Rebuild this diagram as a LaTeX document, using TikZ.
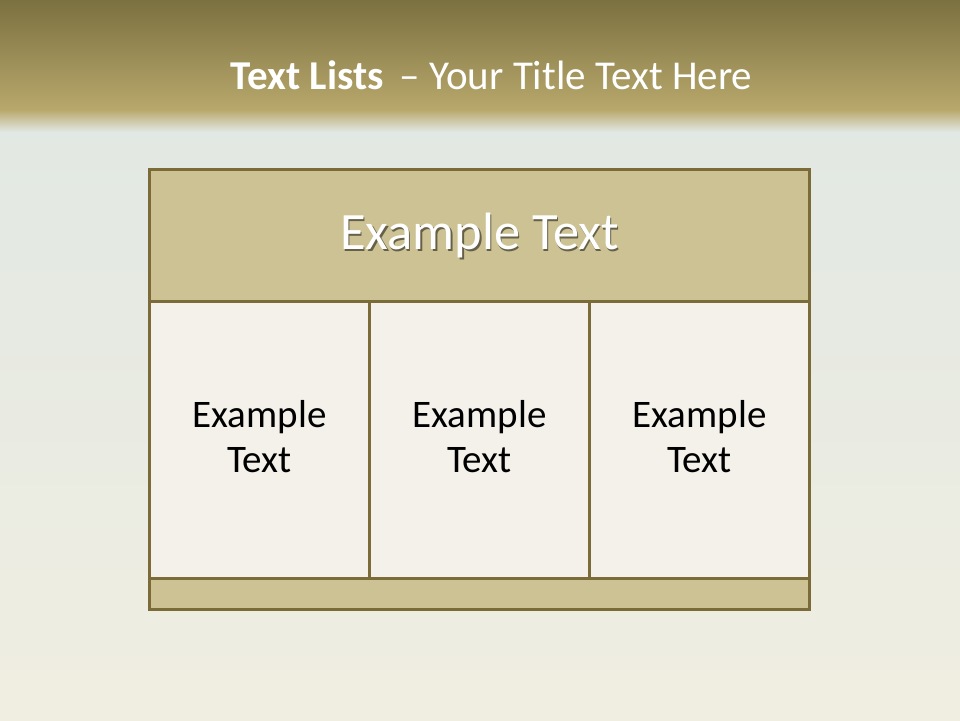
\documentclass[tikz,border=0pt]{standalone}
\usepackage{fontspec}
\setmainfont{Carlito}
\definecolor{bandtop}{HTML}{7B7040}
\definecolor{bandbot}{HTML}{B8A86C}
\definecolor{bgtop}{HTML}{E2E8E3}
\definecolor{bgbot}{HTML}{F0EEE1}
\definecolor{frame}{HTML}{7A6B38}
\definecolor{headfill}{HTML}{CDC293}
\definecolor{cellfill}{HTML}{F3F1E9}
\tikzset{
  box/.style={draw=frame, line width=3pt, inner sep=0pt, anchor=north west},
  headbox/.style={box, fill=headfill, minimum width=660pt, minimum height=132pt},
  cellbox/.style={box, fill=cellfill, minimum width=220pt, minimum height=277pt},
  celltext/.style={align=center, text=black, inner sep=0pt, font=\fontsize{39}{45}\selectfont},
  footbox/.style={box, fill=headfill, minimum width=660pt, minimum height=31pt},
  headtext/.style={text=white, font=\fontsize{52.5}{60}\selectfont},
  shadowtext/.style={text=black, opacity=0.5, font=\fontsize{52.5}{60}\selectfont},
}
\begin{document}
\begin{tikzpicture}[x=1pt,y=-1pt]
\useasboundingbox (0,0) rectangle (960,720);
% background
\shade[top color=bgtop, bottom color=bgbot] (0,120) rectangle (960,720);
\shade[top color=bandtop, bottom color=bandbot] (0,0) rectangle (960,110);
\shade[top color=bandbot, bottom color=bgtop] (0,109.5) rectangle (960,132);
% title
\node[text=white, font=\fontsize{41}{48}\selectfont] (title) at (491.5,75)
  {\textbf{Text Lists}\, – Your Title Text Here};
% table
\node[headbox] (head) at (148,168) {};
\node[cellbox] (c1) at (148,300) {};
\node[cellbox] (c2) at (368,300) {};
\node[cellbox] (c3) at (588,300) {};
\node[footbox] (foot) at (148,577) {};
\node[celltext] (t1) at ([yshift=3pt]c1.center) {Example\\Text};
\node[celltext] (t2) at ([yshift=3pt]c2.center) {Example\\Text};
\node[celltext] (t3) at ([yshift=3pt]c3.center) {Example\\Text};
\node[shadowtext] (headshadow) at ([shift={(1.5pt,-2pt)}]head.center) {Example Text};
\node[headtext] (headlabel) at (head.center) {Example Text};
\end{tikzpicture}
\end{document}
